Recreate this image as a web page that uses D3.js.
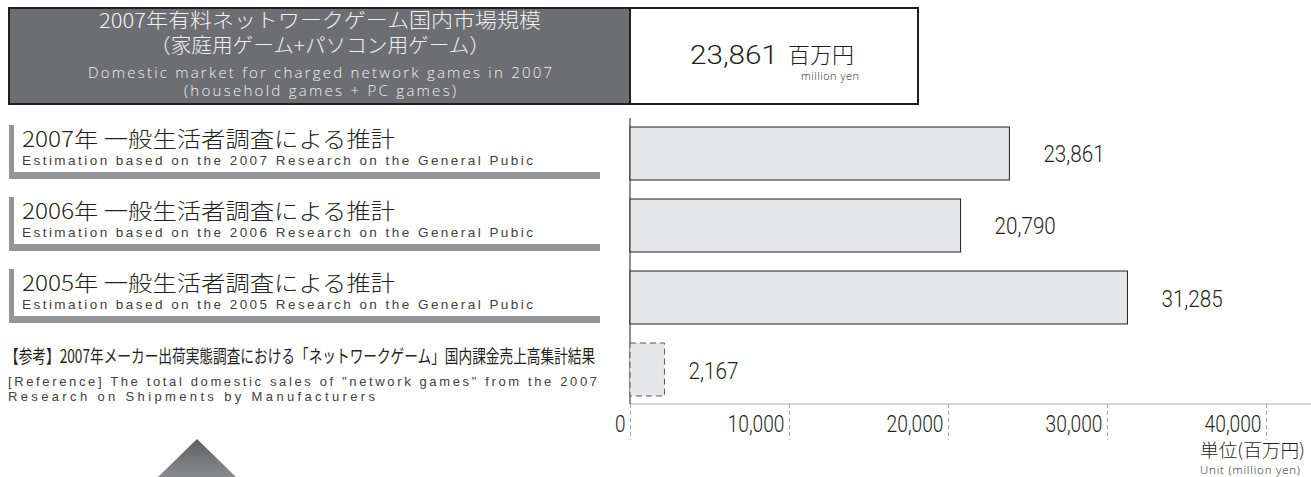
<!DOCTYPE html>
<html>
<head>
  <meta charset="utf-8">
  <title>Network game market 2007</title>
  <script src="https://cdn.jsdelivr.net/npm/d3@7"></script>
  <style>
    body { margin: 0; background: #fff; }
    text { fill: #231f20; }
  </style>
</head>
<body>
  <script type="text/javascript">
    // data
    var categories = ["2007", "2006", "2005", "ref"];
    var values = [23861, 20790, 31285, 2167];
    var labelsJa = ["2007年 一般生活者調査による推計", "2006年 一般生活者調査による推計", "2005年 一般生活者調査による推計"];
    var labelsEn = ["Estimation based on the 2007 Research on the General Pubic",
      "Estimation based on the 2006 Research on the General Pubic",
      "Estimation based on the 2005 Research on the General Pubic"];
    var refJa = "【参考】2007年メーカー出荷実態調査における「ネットワークゲーム」国内課金売上高集計結果";
    var refEn = ["[Reference] The total domestic sales of \"network games\" from the 2007", "Research on Shipments by Manufacturers"];
    var titleLines = ["2007年有料ネットワークゲーム国内市場規模", "（家庭用ゲーム+パソコン用ゲーム）",
      "Domestic market for charged network games in 2007", "(household games + PC games)"];
    var totalValue = 23861;
    var xTicks = [0, 10000, 20000, 30000, 40000];

    var w = 1311, h = 477;
    var jp = "'Noto Sans CJK JP', sans-serif";
    var en = "'Open Sans', 'Liberation Sans', sans-serif";
    var en2 = "'Liberation Sans', Arial, sans-serif";
    var num = "Roboto, sans-serif";

    // rough width of a condensed number label
    function numWidth(s, k) {
      var n = 0;
      for (var c of s) n += (c == "," ? 0.42 : 1);
      return n * k;
    }

    var svg = d3.select("body").append("svg")
      .attr("width", w)
      .attr("height", h);

    var x = d3.scaleLinear().domain([0, 40000]).range([630, 1266]);
    var y = d3.scaleBand().domain(categories).range([118, 405])
      .paddingInner(0.264).paddingOuter(0.125);
    var fmt = d3.format(",");

    // header box
    svg.append("rect").attr("x", 9).attr("y", 8).attr("width", 621).attr("height", 96)
      .attr("fill", "#6d6e71").attr("stroke", "#231f20").attr("stroke-width", 2);
    svg.append("rect").attr("x", 630).attr("y", 8).attr("width", 288).attr("height", 96)
      .attr("fill", "#fff").attr("stroke", "#231f20").attr("stroke-width", 2);

    var tY = [28, 53, 78, 96], tS = [20, 20, 15, 15], tL = [442, 340, 464, 272];
    titleLines.forEach(function(t, i) {
      svg.append("text").attr("x", 320).attr("y", tY[i])
        .attr("text-anchor", "middle")
        .attr("textLength", tL[i])
        .attr("lengthAdjust", i < 2 ? "spacingAndGlyphs" : "spacing")
        .style("font-family", i < 2 ? jp : en)
        .style("font-weight", 300)
        .style("font-size", tS[i] + "px")
        .style("fill", "#f1f1f2")
        .text(t);
    });

    svg.append("text").attr("x", 690).attr("y", 64)
      .style("font-family", num).style("font-weight", 300).style("font-size", "25px")
      .attr("textLength", 88).attr("lengthAdjust", "spacingAndGlyphs")
      .text(fmt(totalValue));
    svg.append("text").attr("x", 788).attr("y", 63)
      .style("font-family", jp).style("font-weight", 300).style("font-size", "22px")
      .text("百万円");
    svg.append("text").attr("x", 801).attr("y", 80)
      .style("font-family", en).style("font-weight", 300).style("font-size", "11px")
      .attr("textLength", 58).attr("lengthAdjust", "spacing")
      .text("million yen");

    // left labels with L brackets
    labelsJa.forEach(function(t, i) {
      var top = y(categories[i]) - 2;
      var g = svg.append("g");
      g.append("rect").attr("x", 9).attr("y", top).attr("width", 5).attr("height", 54)
        .attr("fill", "#939598");
      g.append("rect").attr("x", 9).attr("y", top + 47).attr("width", 591).attr("height", 7)
        .attr("fill", "#939598");
      g.append("text").attr("x", 22).attr("y", top + 22)
        .style("font-family", jp).style("font-weight", 300).style("font-size", "22px")
        .attr("textLength", 373).attr("lengthAdjust", "spacingAndGlyphs")
        .text(t);
      g.append("text").attr("x", 22).attr("y", top + 40)
        .style("font-family", en2).style("font-size", "13.5px").style("fill", "#414042")
        .attr("textLength", 511).attr("lengthAdjust", "spacing")
        .text(labelsEn[i]);
    });

    var refTop = y("ref");
    svg.append("text")
      .attr("transform", "translate(5," + (refTop + 20) + ") scale(0.76,1)")
      .style("font-family", jp).style("font-size", "18px")
      .text(refJa);
    svg.append("text").attr("x", 8).attr("y", refTop + 43)
      .style("font-family", en2).style("font-size", "13px").style("fill", "#414042")
      .attr("textLength", 589).attr("lengthAdjust", "spacing")
      .text(refEn[0]);
    svg.append("text").attr("x", 8).attr("y", refTop + 58)
      .style("font-family", en2).style("font-size", "13px").style("fill", "#414042")
      .attr("textLength", 367).attr("lengthAdjust", "spacing")
      .text(refEn[1]);

    // triangle
    var grad = svg.append("defs").append("linearGradient").attr("id", "tri")
      .attr("x1", 0).attr("y1", 0).attr("x2", 0).attr("y2", 1);
    grad.append("stop").attr("offset", "0%").attr("stop-color", "#5e5f61");
    grad.append("stop").attr("offset", "100%").attr("stop-color", "#8a8b8e");
    svg.append("path").attr("d", "M197,439L236,477L158,477Z").attr("fill", "url(#tri)");

    // axis
    var axis = svg.append("g").attr("transform", "translate(0,404)")
      .call(d3.axisBottom(x).tickValues(xTicks).tickSize(36).tickFormat(fmt));
    axis.select(".domain").remove();
    axis.selectAll(".tick line").attr("stroke", "#a7a9ac").attr("stroke-dasharray", "4,3");
    axis.selectAll(".tick text")
      .attr("text-anchor", "end").attr("x", -5).attr("y", 28).attr("dy", null)
      .attr("textLength", function(d) { return numWidth(fmt(d), 10.5); })
      .attr("lengthAdjust", "spacingAndGlyphs")
      .style("font-family", num).style("font-weight", 300).style("font-size", "24px").style("fill", "#231f20");

    svg.append("line").attr("x1", 630).attr("x2", w).attr("y1", 404).attr("y2", 404)
      .attr("stroke", "#a7a9ac").attr("stroke-width", 1);
    svg.append("line").attr("x1", 630).attr("x2", 630).attr("y1", 118).attr("y2", 404)
      .attr("stroke", "#231f20").attr("stroke-width", 1);

    // bars
    svg.selectAll("rect.bar").data(values).enter().append("rect")
      .attr("class", "bar")
      .attr("x", x(0))
      .attr("y", function(d, i) { return y(categories[i]); })
      .attr("width", function(d) { return x(d) - x(0); })
      .attr("height", y.bandwidth())
      .attr("fill", "#e6e7e8")
      .attr("stroke", function(d, i) { return i == 3 ? "#58595b" : "#231f20"; })
      .attr("stroke-width", 1)
      .attr("stroke-dasharray", function(d, i) { return i == 3 ? "6,4" : null; });

    svg.selectAll("text.val").data(values).enter().append("text")
      .attr("class", "val")
      .attr("x", function(d, i) { return x(d) + (i == 3 ? 24 : 34); })
      .attr("y", function(d, i) { return y(categories[i]) + y.bandwidth() / 2 + 9; })
      .attr("textLength", function(d) { return numWidth(fmt(d), 11.3); })
      .attr("lengthAdjust", "spacingAndGlyphs")
      .style("font-family", num).style("font-weight", 300).style("font-size", "24px")
      .text(function(d) { return fmt(d); });

    // unit
    svg.append("text").attr("x", 1305).attr("y", 457).attr("text-anchor", "end")
      .style("font-family", jp).style("font-weight", 300).style("font-size", "18px")
      .attr("textLength", 105).attr("lengthAdjust", "spacingAndGlyphs")
      .text("単位(百万円)");
    svg.append("text").attr("x", 1300).attr("y", 474).attr("text-anchor", "end")
      .style("font-family", en).style("font-weight", 300).style("font-size", "11.5px")
      .attr("textLength", 100).attr("lengthAdjust", "spacing")
      .text("Unit (million yen)");
  </script>
</body>
</html>
